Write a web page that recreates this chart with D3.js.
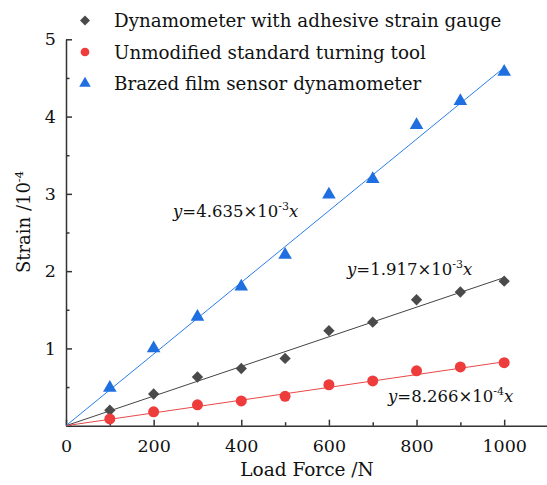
<!DOCTYPE html>
<html>
<head>
<meta charset="utf-8">
<script src="https://cdn.jsdelivr.net/npm/d3@7.9.0/dist/d3.min.js"></script>
<style>
  body { margin: 0; background: #fff; }
  text { font-family: "DejaVu Serif", "Liberation Serif", serif; fill: #111; }
</style>
</head>
<body>
<div id="chart"></div>
<script>
// load values (N)
const loads = [100, 200, 300, 400, 500, 600, 700, 800, 900, 1000];
// strain /10^-4
const adhesive = [0.20, 0.41, 0.63, 0.74, 0.87, 1.23, 1.34, 1.63, 1.73, 1.87];
const unmodified = [0.087, 0.18, 0.27, 0.32, 0.38, 0.53, 0.58, 0.71, 0.76, 0.815];
const brazed = [0.49, 1.00, 1.41, 1.80, 2.21, 2.99, 3.19, 3.89, 4.20, 4.58];
// fitted slopes (strain /10^-4 per 1000 N)
const slopes = [1.917, 0.8266, 4.635];
const seriesNames = ["Dynamometer with adhesive strain gauge", "Unmodified standard turning tool", "Brazed film sensor dynamometer"];
const xTicks = [0, 200, 400, 600, 800, 1000];
const yTicks = [0, 1, 2, 3, 4, 5];

const W = 547, H = 485;
const svg = d3.select("#chart").append("svg")
    .attr("width", W)
    .attr("height", H);

const x = d3.scaleLinear().domain([0, 1100]).range([66, 548]);
const y = d3.scaleLinear().domain([0, 5]).range([425.7, 39.3]);

const colors = { adhesive: "#4a4a4a", unmodified: "#ee3b3b", brazed: "#1f6fe0" };
const lineColors = { adhesive: "#444", unmodified: "#e84848", brazed: "#2a7de8" };

// x axis, ticks pointing inward
const xAxis = svg.append("g")
    .attr("transform", `translate(0,${y(0)})`)
    .call(d3.axisBottom(x).tickValues(xTicks).tickFormat(d3.format("d"))
      .tickSizeInner(-6).tickSizeOuter(0).tickPadding(14));
xAxis.selectAll("text").style("font-size", "17.5px").attr("dy", "0.71em");
svg.append("g")
    .attr("transform", `translate(0,${y(0)})`)
    .call(d3.axisBottom(x).tickValues(d3.range(100, 1100, 200)).tickSize(-3.5).tickFormat(""))
    .call(g => g.select(".domain").remove());

// y axis
const yAxis = svg.append("g")
    .attr("transform", `translate(${x(0)},0)`)
    .call(d3.axisLeft(y).tickValues(yTicks).tickFormat(d3.format("d"))
      .tickSizeInner(-6).tickSizeOuter(0).tickPadding(10));
yAxis.selectAll("text").style("font-size", "17.5px");
svg.append("g")
    .attr("transform", `translate(${x(0)},0)`)
    .call(d3.axisLeft(y).tickValues([0.5, 1.5, 2.5, 3.5, 4.5]).tickSize(-3.5).tickFormat(""))
    .call(g => g.select(".domain").remove());

svg.selectAll(".domain, .tick line").attr("stroke", "#333").attr("stroke-width", 1.5);
yAxis.select(".tick:first-of-type text").remove();

// axis titles
svg.append("text")
    .attr("x", 307).attr("y", 476)
    .attr("text-anchor", "middle")
    .style("font-size", "18.5px")
    .text("Load Force /N");
const yt = svg.append("text")
    .attr("transform", "translate(30,222) rotate(-90)")
    .attr("text-anchor", "middle")
    .style("font-size", "18px");
yt.append("tspan").text("Strain /10");
yt.append("tspan").attr("dy", -7).style("font-size", "11.5px").text("-4");

// fitted lines
const keys = ["adhesive", "unmodified", "brazed"];
const dataSets = { adhesive, unmodified, brazed };
keys.forEach((k, i) => {
  svg.append("line")
      .attr("x1", x(0)).attr("y1", y(0))
      .attr("x2", x(1000)).attr("y2", y(slopes[i]))
      .attr("stroke", lineColors[k])
      .attr("stroke-width", 1);
});

// markers
const symbolFor = {
  adhesive: d3.symbol(d3.symbolSquare, 64),
  unmodified: d3.symbol(d3.symbolCircle, 95),
  brazed: d3.symbol(d3.symbolTriangle, 80)
};
const rotFor = { adhesive: 45, unmodified: 0, brazed: 0 };
keys.forEach(k => {
  svg.append("g").selectAll("path")
    .data(loads.map((l, i) => [l, dataSets[k][i]]))
    .join("path")
      .attr("d", symbolFor[k])
      .attr("transform", d => `translate(${x(d[0])},${y(d[1])}) rotate(${rotFor[k]})`)
      .attr("fill", colors[k]);
});

// legend
const legSym = {
  adhesive: d3.symbol(d3.symbolSquare, 50),
  unmodified: d3.symbol(d3.symbolCircle, 60),
  brazed: d3.symbol(d3.symbolTriangle, 58)
};
keys.forEach((k, i) => {
  const cy = 20.5 + i * 31.5;
  svg.append("path")
      .attr("d", legSym[k])
      .attr("transform", `translate(85,${cy}) rotate(${rotFor[k]})`)
      .attr("fill", colors[k]);
  svg.append("text")
      .attr("x", 114).attr("y", cy + 6.5)
      .style("font-size", "18.3px")
      .text(seriesNames[i]);
});

// equations
function equation(xp, yp, coef, exp) {
  const t = svg.append("text").attr("x", xp).attr("y", yp).style("font-size", "16.5px");
  t.append("tspan").style("font-style", "italic").text("y");
  t.append("tspan").text("=" + coef + "\u00d710");
  t.append("tspan").attr("dy", -7).style("font-size", "11px").text(exp);
  t.append("tspan").attr("dy", 7).style("font-style", "italic").text("x");
}
equation(173, 217, "4.635", "-3");
equation(347, 275, "1.917", "-3");
equation(388, 402, "8.266", "-4");
</script>
</body>
</html>
